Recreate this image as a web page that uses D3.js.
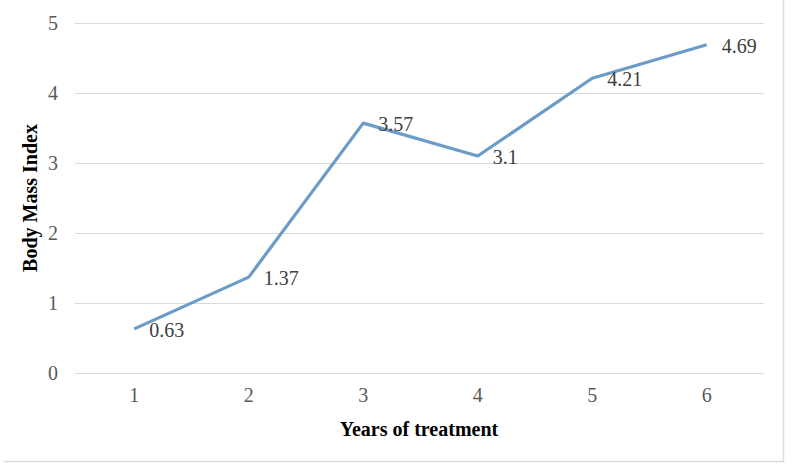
<!DOCTYPE html>
<html>
<head>
<meta charset="utf-8">
<script src="https://cdn.jsdelivr.net/npm/d3@7"></script>
<style>
  body { margin: 0; background: #fff; }
  svg text { font-family: 'Liberation Serif', 'Times New Roman', serif; }
</style>
</head>
<body>
<svg width="794" height="469"></svg>
<script>
const years = ['1', '2', '3', '4', '5', '6'];
const bmi = [0.63, 1.37, 3.57, 3.1, 4.21, 4.69];
const yTicks = [0, 1, 2, 3, 4, 5];

const svg = d3.select('svg');

// plot area
const plotLeft = 77, plotRight = 764, plotTop = 23, plotBottom = 373;

const x = d3.scaleBand().domain(years).range([plotLeft, plotRight]);
const y = d3.scaleLinear().domain([0, 5]).range([plotBottom, plotTop]);

// frame (only bottom and right edges visible)
svg.append('path')
  .attr('d', 'M4,461.5H783.5V0')
  .attr('fill', 'none')
  .attr('stroke', '#dcdcdc')
  .attr('stroke-width', 1.5);

// gridlines
svg.append('g')
  .selectAll('line')
  .data(yTicks)
  .join('line')
  .attr('x1', plotLeft - 2)
  .attr('x2', plotRight)
  .attr('y1', d => y(d) + 0.5)
  .attr('y2', d => y(d) + 0.5)
  .attr('stroke', '#d9d9d9')
  .attr('stroke-width', 1);

// y axis labels
const yAxis = svg.append('g')
  .attr('transform', `translate(${plotLeft - 19},0)`)
  .call(d3.axisLeft(y).tickValues(yTicks).tickFormat(d3.format('d')).tickSize(0).tickPadding(0));
yAxis.select('.domain').remove();
yAxis.selectAll('text')
  .style('font-size', '20px')
  .attr('fill', '#595959');

// x axis labels
const xAxis = svg.append('g')
  .attr('transform', `translate(0,${plotBottom + 15})`)
  .call(d3.axisBottom(x).tickSize(0).tickPadding(0));
xAxis.select('.domain').remove();
xAxis.selectAll('text')
  .style('font-size', '20px')
  .attr('fill', '#595959');

// line
const line = d3.line()
  .x((d, i) => x(years[i]) + x.bandwidth() / 2)
  .y(d => y(d));

svg.append('path')
  .datum(bmi)
  .attr('d', line)
  .attr('fill', 'none')
  .attr('stroke', '#6b9bc7')
  .attr('stroke-width', 3.2)
  .attr('stroke-linejoin', 'round');

// data labels
svg.append('g')
  .selectAll('text')
  .data(bmi)
  .join('text')
  .attr('x', (d, i) => x(years[i]) + x.bandwidth() / 2 + 15)
  .attr('y', d => y(d) + 8)
  .style('font-size', '20px')
  .attr('fill', '#404040')
  .text(d => d);

// axis titles
svg.append('text')
  .attr('x', 419)
  .attr('y', 436)
  .attr('text-anchor', 'middle')
  .style('font-size', '20px')
  .attr('font-weight', 'bold')
  .attr('fill', '#000')
  .text('Years of treatment');

svg.append('text')
  .attr('transform', `translate(37,198) rotate(-90)`)
  .attr('text-anchor', 'middle')
  .style('font-size', '20px')
  .attr('font-weight', 'bold')
  .attr('fill', '#000')
  .text('Body Mass Index');
</script>
</body>
</html>
